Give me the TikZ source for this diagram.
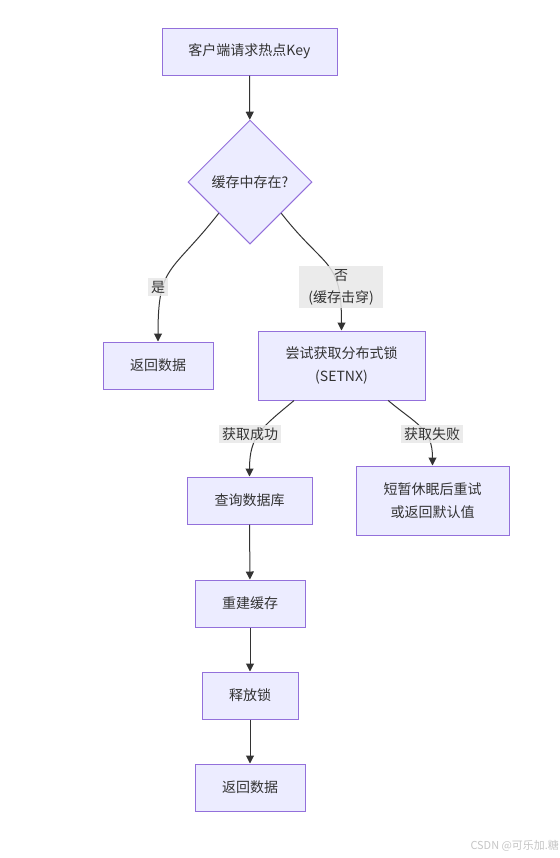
\documentclass[tikz,border=0pt]{standalone}
\usepackage{fontspec}
\setmainfont{Noto Sans CJK SC}
\usetikzlibrary{shapes.geometric,arrows.meta}
\definecolor{nfill}{HTML}{ECECFF}
\definecolor{nstroke}{HTML}{9370DB}
\definecolor{txt}{HTML}{333333}
\definecolor{lblbg}{HTML}{E8E8E8}
\begin{document}
\begin{tikzpicture}[x=0.75pt,y=-0.75pt,
  box/.style={draw=nstroke, fill=nfill, line width=0.75pt, inner sep=0pt,
    align=center, text=txt, font=\fontsize{10.5}{17.5}\selectfont, minimum height=35.25pt},
  dia/.style={diamond, aspect=1, draw=nstroke, fill=nfill, line width=0.75pt, inner sep=0pt,
    minimum width=93pt, minimum height=93pt, text=txt, font=\fontsize{10.5}{14}\selectfont},
  arr/.style={draw=txt, line width=0.75pt, -{Triangle[length=6pt,width=6pt]}},
  lbl/.style={fill=lblbg, fill opacity=0.85, text opacity=1, text=txt, inner sep=2pt,
    align=center, font=\fontsize{10.5}{16.5}\selectfont},
  wmark/.style={text=gray!45, font=\fontsize{8.2}{9}\selectfont, inner sep=0pt}
]
\useasboundingbox[fill=white] (0,0) rectangle (560,858);

\node[box, minimum width=131.25pt] (start) at (249.5,51.5) {客户端请求热点Key};
\node[dia] (dec) at (250,182) {缓存中存在?};
\node[box, minimum width=82.5pt] (ret1) at (158,365.5) {返回数据};
\node[box, minimum width=125.25pt, minimum height=51.75pt] (lock) at (341.5,365.5) {尝试获取分布式锁\\(SETNX)};
\node[box, minimum width=93.75pt] (db) at (249.5,500.5) {查询数据库};
\node[box, minimum width=114.75pt, minimum height=51.75pt] (retry) at (432.5,500.5) {短暂休眠后重试\\或返回默认值};
\node[box, minimum width=82.5pt] (rebuild) at (250,603.5) {重建缓存};
\node[box, minimum width=72pt] (unlock) at (250,695.5) {释放锁};
\node[box, minimum width=82.5pt] (ret2) at (250,787.5) {返回数据};

\draw[arr] (start) -- (dec);
\draw[arr] (dec.south west) to[out=-128,in=90,looseness=1.4] (ret1.north);
\draw[arr] (dec.south east) to[out=-52,in=90,looseness=1.4] (lock.north);
\draw[arr] ([xshift=-35.6pt]lock.south) to[out=-140,in=90,looseness=1.2] (db.north);
\draw[arr] ([xshift=35pt]lock.south) to[out=-40,in=90,looseness=1.2] (retry.north);
\draw[arr] (db) -- (rebuild);
\draw[arr] (rebuild) -- (unlock);
\draw[arr] (unlock) -- (ret2);

\node[lbl] (lyes) at (158,287) {是};
\node[lbl, inner xsep=5pt, minimum width=63pt] (lno) at (341,287) {否\\(缓存击穿)};
\node[lbl] (lok) at (250,434) {获取成功};
\node[lbl] (lfail) at (432,434) {获取失败};

\node[wmark, anchor=east] (wm) at (559,846) {CSDN @可乐加.糖};
\end{tikzpicture}
\end{document}
